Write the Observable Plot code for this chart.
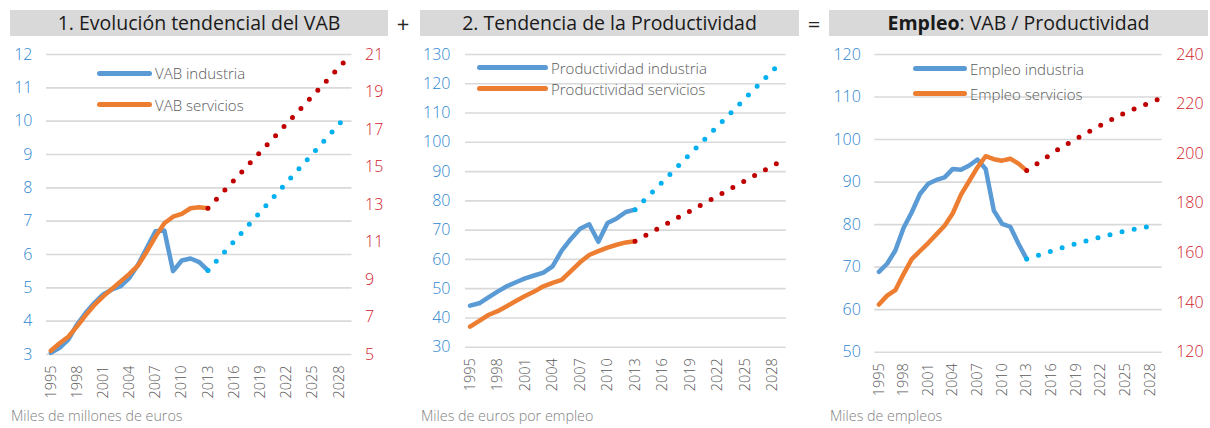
<!DOCTYPE html>
<html><head><meta charset="utf-8">
<script src="https://cdn.jsdelivr.net/npm/d3@7"></script>
<script src="https://cdn.jsdelivr.net/npm/@observablehq/plot@0.6"></script>
<style>
body{margin:0;width:1210px;height:428px;position:relative;background:#fff;font-family:"Open Sans",sans-serif;overflow:hidden}
.bar{position:absolute;top:10px;height:26px;background:#D9D9D9;color:#1a1a1a;font-size:19.5px;line-height:26px;text-align:center;white-space:nowrap}
.op{position:absolute;top:10px;font-size:22px;line-height:26px;color:#262626;transform:translateX(-50%)}
.cap{position:absolute;top:406px;font-size:14.3px;color:#7f7f7f;white-space:nowrap;font-weight:300}
.panel{position:absolute;top:40px}
.lg{position:absolute;font-size:15px;color:#595959;white-space:nowrap;line-height:20px;font-weight:300}
.lg i{position:absolute;height:5px;border-radius:3px}
</style></head>
<body>
<script>
// ---- data ----
const years = [1995,1996,1997,1998,1999,2000,2001,2002,2003,2004,2005,2006,2007,2008,2009,2010,2011,2012,2013];
const xTicks = [1995,1998,2001,2004,2007,2010,2013,2016,2019,2022,2025,2028];

// 1. VAB (industria: eje izq., servicios: eje dcho.)
const vabIndustria = [3.05,3.2,3.45,3.9,4.25,4.55,4.8,4.95,5.05,5.3,5.7,6.2,6.7,6.72,5.5,5.82,5.88,5.77,5.52];
const vabServicios = [5.2,5.6,5.95,6.5,7.1,7.65,8.1,8.5,8.9,9.3,9.75,10.5,11.3,12.0,12.35,12.5,12.8,12.85,12.8];
const vabProjYears = [2013,2029];
const vabIndustriaProj = [5.52,10.2];
const vabServiciosProj = [12.8,20.8];

// 2. Productividad
const prodIndustria = [44.2,45,47,49,50.8,52.2,53.5,54.5,55.5,57.6,63,67,70.5,72,66,72.4,74,76.2,77];
const prodServicios = [37,39,41,42.3,44,45.8,47.5,49,50.8,52,53,56,59,61.5,62.8,64,65,65.8,66.2];
const prodProjYears = [2013,2029];
const prodIndustriaProj = [77,127.6];
const prodServiciosProj = [66.2,93.7];

// 3. Empleo (industria: eje izq., servicios: eje dcho.)
const empIndustria = [68.9,70.8,73.9,79.2,82.9,87.2,89.6,90.5,91.1,93.1,92.9,93.9,95.3,93.1,83.3,80.2,79.5,75.5,71.9];
const empServicios = [139.2,142.8,145,151.5,157.5,160.8,164,167.5,171,176,183.5,189,194.5,199,197.8,197.2,198,196,193.2];
const empProjYears = [2013,2017,2021,2025,2029];
const empIndustriaProj = [71.9,74.4,76.6,78.5,80.0];
const empServiciosProj = [193.2,202.1,209.7,216.6,221.9];

// ---- styles ----
const C_IND = "#5B9BD5", C_SERV = "#ED7D31", C_IND_P = "#00B0F0", C_SERV_P = "#C00000";
const C_LEFT = "#2E86D0", C_RIGHT = "#D0202A", C_GRID = "#D9D9D9";
const FONT = "Open Sans, sans-serif";

function addDiv(cls, style, html){
  const d = document.createElement("div");
  d.className = cls; d.style.cssText = style; d.innerHTML = html;
  document.body.appendChild(d); return d;
}

function panel(o){
  const [y0,y1] = o.yDomain;
  const toLeft = o.right ? v => y0 + (v - o.right.domain[0])*(y1-y0)/(o.right.domain[1]-o.right.domain[0]) : v => v;
  const fromLeft = o.right ? v => o.right.domain[0] + (v - y0)*(o.right.domain[1]-o.right.domain[0])/(y1-y0) : v => v;
  const ind = years.map((yr,i)=>({x:yr, y:o.ind[i]}));
  const serv = years.map((yr,i)=>({x:yr, y:toLeft(o.serv[i])}));
  const indP = o.projYears.map((yr,i)=>({x:yr, y:o.indProj[i]}));
  const servP = o.projYears.map((yr,i)=>({x:yr, y:toLeft(o.servProj[i])}));
  const marks = [
    Plot.ruleY(o.yTicks, {stroke:C_GRID, strokeWidth:1.6}),
    Plot.axisY(o.yTicks, {anchor:"left", tickSize:0, tickPadding:o.padL, color:C_LEFT, fontSize:16, fontWeight:300, label:null, tickFormat:d=>String(d)}),
    Plot.axisX(xTicks, {anchor:"bottom", tickSize:0, tickPadding:11, tickRotate:-90, color:"#595959", fontSize:14.5, fontWeight:300, label:null, tickFormat:d=>String(d)}),
    Plot.line(ind, {x:"x", y:"y", stroke:C_IND, strokeWidth:4.5, strokeLinejoin:"round", strokeLinecap:"round"}),
    Plot.line(serv, {x:"x", y:"y", stroke:C_SERV, strokeWidth:4.5, strokeLinejoin:"round", strokeLinecap:"round"}),
    Plot.line(indP, {x:"x", y:"y", stroke:C_IND_P, strokeWidth:5, strokeDasharray:"0 12.4", strokeLinecap:"round"}),
    Plot.line(servP, {x:"x", y:"y", stroke:C_SERV_P, strokeWidth:5, strokeDasharray:"0 12.4", strokeLinecap:"round"})
  ];
  if (o.right) {
    marks.push(Plot.axisY(o.right.ticks.map(toLeft), {anchor:"right", tickSize:0, tickPadding:o.padR, color:C_RIGHT, fontSize:16, fontWeight:300, label:null, tickFormat:d=>String(Math.round(fromLeft(d)))}));
  }
  const svg = Plot.plot({
    width:o.width, height:o.height,
    marginLeft:o.mL, marginRight:o.mR, marginTop:14, marginBottom:o.mB,
    x:{type:"linear", domain:[1994.5,2029.5]},
    y:{domain:o.yDomain},
    style:{fontFamily:FONT, background:"transparent", overflow:"visible"},
    marks
  });
  const wrap = document.createElement("div");
  wrap.className = "panel"; wrap.style.left = o.left + "px";
  wrap.appendChild(svg);
  document.body.appendChild(wrap);
}

// title bars and operators
addDiv("bar","left:10px;width:378px;","1. Evolución tendencial del VAB");
addDiv("op","left:403px;","+");
addDiv("bar","left:420px;width:379px;","2. Tendencia de la Productividad");
addDiv("op","left:814px;","=");
addDiv("bar","left:829px;width:379px;","<b>Empleo</b>: VAB / Productividad");

panel({left:0, width:405, height:365, mL:46, mR:53.5, mB:51, padL:14, padR:13,
  yDomain:[3,12], yTicks:[3,4,5,6,7,8,9,10,11,12],
  right:{domain:[5,21], ticks:[5,7,9,11,13,15,17,19,21]},
  ind:vabIndustria, serv:vabServicios, projYears:vabProjYears, indProj:vabIndustriaProj, servProj:vabServiciosProj});
panel({left:405, width:405, height:360, mL:60, mR:24.3, mB:53.3, padL:15, padR:14,
  yDomain:[30,130], yTicks:[30,40,50,60,70,80,90,100,110,120,130],
  right:null,
  ind:prodIndustria, serv:prodServicios, projYears:prodProjYears, indProj:prodIndustriaProj, servProj:prodServiciosProj});
panel({left:810, width:400, height:360, mL:64.3, mR:48.3, mB:48.3, padL:14, padR:14,
  yDomain:[50,120], yTicks:[50,60,70,80,90,100,110,120],
  right:{domain:[120,240], ticks:[120,140,160,180,200,220,240]},
  ind:empIndustria, serv:empServicios, projYears:empProjYears, indProj:empIndustriaProj, servProj:empServiciosProj});

// legends
function legend(x1, x2, y, color, label){
  const d = addDiv("lg", `left:${x1}px;top:${y-10}px;padding-left:${x2-x1+3}px;`, label);
  const i = document.createElement("i");
  i.style.cssText = `left:0;top:7.5px;width:${x2-x1}px;background:${color};`;
  d.prepend(i);
}
legend(97,152,73,C_IND,"VAB industria");
legend(97,152,104.5,C_SERV,"VAB servicios");
legend(477,548,67.5,C_IND,"Productividad industria");
legend(477,548,88.5,C_SERV,"Productividad servicios");
legend(913,967,68.5,C_IND,"Empleo industria");
legend(913,967,93.5,C_SERV,"Empleo servicios");

// captions
addDiv("cap","left:11px;","Miles de millones de euros");
addDiv("cap","left:421px;","Miles de euros por empleo");
addDiv("cap","left:830px;","Miles de empleos");
</script>
</body></html>
